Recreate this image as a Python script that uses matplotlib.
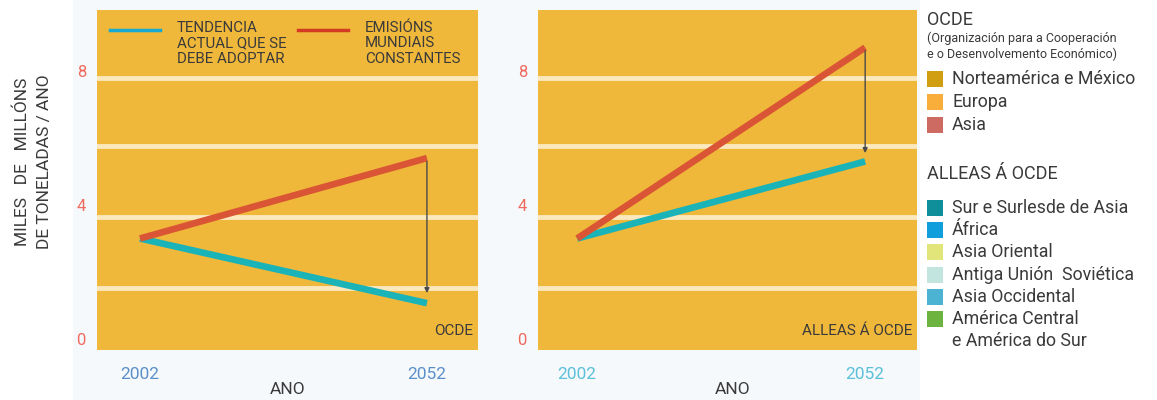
import matplotlib
matplotlib.use("Agg")
import matplotlib.pyplot as plt
from matplotlib.patches import Rectangle

plt.rcParams['font.family'] = ['Roboto', 'DejaVu Sans']

# ---- data ----
years = [2002, 2052]
ocde_constant = [3.0, 5.4]      # EMISIÓNS MUNDIAIS CONSTANTES
ocde_trend = [3.0, 1.07]        # TENDENCIA ACTUAL QUE SE DEBE ADOPTAR
non_constant = [3.0, 8.7]
non_trend = [3.0, 5.3]
ocde_arrow = [5.3, 1.37]
non_arrow = [8.6, 5.55]
yticks = [0, 4, 8]
xticks = [2002, 2052]
grid_vals = [7.8, 5.75, 3.65, 1.52]

legend_ocde = ["Norteamérica e México", "Europa", "Asia"]
colors_ocde = ["#d19e12", "#f9ae3c", "#cd6b63"]
legend_non = ["Sur e Surlesde de Asia", "África", "Asia Oriental",
              "Antiga Unión  Soviética", "Asia Occidental",
              "América Central\ne América do Sur"]
colors_non = ["#0e8f99", "#109fdc", "#e2e57a", "#c3e5df", "#4db3d3", "#6db33f"]

ORANGE = "#f0b83a"
RED = "#da5535"
CYAN = "#1ab3b8"
TXT = "#3a3a3a"

W, H = 1157, 400
fig = plt.figure(figsize=(W / 100, H / 100), dpi=100)
fig.patch.set_facecolor("white")
# light page background
fig.add_artist(Rectangle((73 / W, 0), (920 - 73) / W, 1, transform=fig.transFigure,
                         facecolor="#f6f9fc", edgecolor="none", zorder=-10))


def px_axes(x0, x1, y0, y1):
    return fig.add_axes([x0 / W, 1 - y1 / H, (x1 - x0) / W, (y1 - y0) / H])


def setup(ax, xlim, xtick_color, const, trend, arrow, label):
    ax.set_facecolor(ORANGE)
    for s in ax.spines.values():
        s.set_visible(False)
    ax.set_xlim(*xlim)
    ax.set_ylim(-0.328, 9.82)
    for g in grid_vals:
        ax.axhline(g, color="#fce8bd", lw=3.5, zorder=1)
    ax.set_yticks(yticks)
    ax.set_yticklabels([str(t) for t in yticks])
    ax.set_xticks(xticks)
    ax.set_xticklabels([str(t) for t in xticks])
    ax.tick_params(axis="y", length=0, pad=8, labelsize=12, labelcolor="#ee6a5e")
    ax.tick_params(axis="x", length=0, pad=12, labelsize=12.5, labelcolor=xtick_color)
    ax.plot(years, trend, color=CYAN, lw=4.8, solid_capstyle="butt", zorder=3)
    ax.plot(years, const, color=RED, lw=4.8, solid_capstyle="butt", zorder=4)
    ax.annotate("", xy=(years[1], arrow[1]), xytext=(years[1], arrow[0]),
                arrowprops=dict(arrowstyle="-|>", color="#4a4a4a", lw=1.0,
                                mutation_scale=7, shrinkA=0, shrinkB=0), zorder=5)
    ax.text(0.988, 0.035, label, transform=ax.transAxes, ha="right", va="bottom",
            fontsize=11, color=TXT)


ax1 = px_axes(97, 478, 10, 350)
setup(ax1, (1994.5, 2060.9), "#5b8fc9", ocde_constant, ocde_trend, ocde_arrow, "OCDE")
ax2 = px_axes(538, 917, 10, 350)
setup(ax2, (1995.2, 2061.0), "#5bc0d8", non_constant, non_trend, non_arrow, "ALLEAS Á OCDE")

# in-panel legend (left panel)
ax1.plot([0.035, 0.165], [0.94, 0.94], transform=ax1.transAxes, color="#17a9d0", lw=2.5)
ax1.text(0.21, 0.968, "TENDENCIA\nACTUAL QUE SE\nDEBE ADOPTAR", transform=ax1.transAxes,
         ha="left", va="top", fontsize=10.8, color=TXT, linespacing=1.12)
ax1.plot([0.527, 0.658], [0.94, 0.94], transform=ax1.transAxes, color="#d23b22", lw=2.5)
ax1.text(0.703, 0.968, "EMISIÓNS\nMUNDIAIS\nCONSTANTES", transform=ax1.transAxes,
         ha="left", va="top", fontsize=10.8, color=TXT, linespacing=1.12)

# axis labels
fig.text(288 / W, 1 - 390 / H, "ANO", ha="center", va="center", fontsize=12.5, color=TXT)
fig.text(733 / W, 1 - 390 / H, "ANO", ha="center", va="center", fontsize=12.5, color=TXT)
fig.text(22 / W, 1 - 162 / H, "MILES   DE   MILLÓNS", rotation=90, ha="center",
         va="center", fontsize=12.5, color=TXT)
fig.text(45 / W, 1 - 162 / H, "DE TONELADAS / ANO", rotation=90, ha="center",
         va="center", fontsize=12.5, color=TXT)

# right-hand legend
lx = 927
fig.text(lx / W, 1 - 20 / H, "OCDE", ha="left", va="center", fontsize=13, color=TXT)
fig.text(lx / W, 1 - 46.5 / H, "(Organización para a Cooperación\ne o Desenvolvemento Económico)",
         ha="left", va="center", fontsize=9.0, color=TXT, linespacing=1.3)


def patch_row(y, color, label):
    fig.add_artist(Rectangle((lx / W, 1 - (y + 8) / H), 16 / W, 16 / H,
                             transform=fig.transFigure, facecolor=color, edgecolor="none"))
    fig.text((lx + 25) / W, 1 - y / H, label, ha="left", va="center", fontsize=12.8,
             color=TXT)


for i, (lab, c) in enumerate(zip(legend_ocde, colors_ocde)):
    patch_row(79 + i * 23, c, lab)

fig.text(lx / W, 1 - 174 / H, "ALLEAS Á OCDE", ha="left", va="center", fontsize=13, color=TXT)
for i, (lab, c) in enumerate(zip(legend_non, colors_non)):
    if "\n" in lab:
        first, second = lab.split("\n")
        patch_row(208 + i * 22.2, c, first)
        fig.text((lx + 25) / W, 1 - (208 + i * 22.2 + 22) / H, second, ha="left",
                 va="center", fontsize=12.8, color=TXT)
    else:
        patch_row(208 + i * 22.2, c, lab)

fig.savefig("out.png", dpi=100, facecolor=fig.get_facecolor())
